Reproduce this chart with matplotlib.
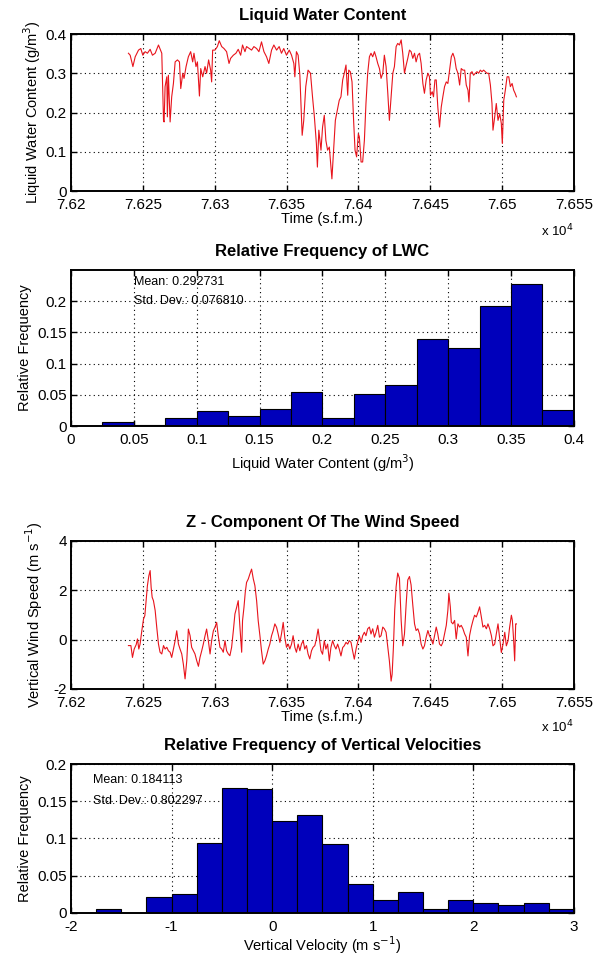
import numpy as np
import matplotlib
matplotlib.use('Agg')
import matplotlib.pyplot as plt

plt.rcParams['font.family'] = ['Liberation Sans', 'DejaVu Sans']

# liquid water content time series (s.f.m., g/m3)
lwc_time = [76240.0, 76241.2, 76243.1, 76244.7, 76247.0, 76248.6, 76250.0, 76251.6, 76253.2, 76255.1,
            76256.7, 76258.6, 76260.9, 76263.2, 76264.4, 76264.8, 76265.5, 76266.7, 76267.1, 76267.8,
            76269.0, 76270.1, 76271.3, 76272.5, 76274.1, 76275.5, 76276.4, 76277.8, 76278.7, 76280.1,
            76281.7, 76283.3, 76284.7, 76285.6, 76287.0, 76288.0, 76289.4, 76290.3, 76291.7, 76293.3,
            76294.4, 76295.8, 76297.2, 76297.9, 76298.6, 76300.2, 76301.9, 76303.2, 76304.9, 76306.5,
            76308.3, 76310.0, 76311.1, 76313.0, 76314.8, 76316.4, 76318.1, 76319.4, 76321.1, 76322.2,
            76324.1, 76325.7, 76327.3, 76329.2, 76330.8, 76332.6, 76334.3, 76336.1, 76337.7, 76339.6,
            76341.2, 76343.1, 76344.9, 76346.5, 76348.1, 76350.0, 76351.9, 76353.5, 76355.1, 76355.8,
            76356.9, 76358.1, 76359.3, 76360.9, 76362.0, 76363.4, 76365.0, 76366.7, 76368.1, 76369.4,
            76370.8, 76371.5, 76372.5, 76374.0, 76375.1, 76376.3, 76377.4, 76378.6, 76379.8, 76380.9,
            76381.6, 76382.6, 76384.0, 76384.9, 76385.8, 76386.7, 76387.9, 76389.1, 76390.2, 76391.4,
            76392.6, 76393.3, 76394.4, 76395.6, 76396.7, 76397.7, 76398.8, 76400.0, 76400.7, 76401.9,
            76403.0, 76404.2, 76405.3, 76406.5, 76407.7, 76408.8, 76410.0, 76411.2, 76412.3, 76413.5,
            76414.7, 76415.8, 76417.0, 76418.1, 76419.3, 76420.5, 76421.6, 76422.8, 76424.0, 76425.1,
            76426.3, 76427.4, 76428.6, 76429.8, 76430.9, 76432.1, 76433.3, 76434.4, 76435.6, 76436.7,
            76437.9, 76439.1, 76440.2, 76441.4, 76442.6, 76443.7, 76444.9, 76446.0, 76447.2, 76448.4,
            76449.5, 76450.2, 76451.4, 76452.3, 76453.3, 76454.2, 76455.3, 76456.5, 76457.7, 76458.8,
            76460.0, 76461.2, 76462.3, 76463.5, 76464.7, 76465.8, 76467.0, 76468.1, 76469.3, 76470.5,
            76471.6, 76472.8, 76474.0, 76475.1, 76476.3, 76477.0, 76477.9, 76479.1, 76480.2, 76481.4,
            76482.6, 76483.7, 76484.9, 76486.0, 76487.2, 76488.4, 76489.5, 76490.7, 76491.9, 76493.0,
            76493.7, 76494.9, 76496.0, 76497.2, 76498.4, 76499.5, 76500.2, 76501.2, 76502.3, 76503.5,
            76504.7, 76505.8, 76507.0, 76508.1, 76509.1, 76510.0]
lwc = [0.351, 0.346, 0.317, 0.342, 0.359, 0.363, 0.346, 0.355, 0.351, 0.361,
       0.346, 0.351, 0.372, 0.351, 0.180, 0.176, 0.266, 0.291, 0.189, 0.295,
       0.176, 0.240, 0.274, 0.329, 0.334, 0.329, 0.261, 0.300, 0.287, 0.317,
       0.342, 0.355, 0.329, 0.351, 0.317, 0.329, 0.242, 0.312, 0.291, 0.317,
       0.300, 0.334, 0.308, 0.278, 0.359, 0.359, 0.368, 0.383, 0.368, 0.363,
       0.355, 0.325, 0.338, 0.346, 0.351, 0.361, 0.346, 0.372, 0.355, 0.368,
       0.363, 0.359, 0.368, 0.363, 0.355, 0.380, 0.355, 0.342, 0.325, 0.359,
       0.372, 0.359, 0.368, 0.351, 0.363, 0.346, 0.359, 0.346, 0.325, 0.291,
       0.355, 0.346, 0.295, 0.142, 0.180, 0.266, 0.308, 0.300, 0.240, 0.189,
       0.121, 0.061, 0.155, 0.104, 0.163, 0.193, 0.129, 0.104, 0.112, 0.061,
       0.031, 0.095, 0.180, 0.197, 0.214, 0.231, 0.240, 0.283, 0.300, 0.321,
       0.244, 0.308, 0.304, 0.278, 0.180, 0.104, 0.087, 0.146, 0.138, 0.074,
       0.074, 0.129, 0.223, 0.300, 0.342, 0.351, 0.342, 0.355, 0.342, 0.325,
       0.312, 0.287, 0.300, 0.346, 0.317, 0.249, 0.180, 0.240, 0.300, 0.317,
       0.368, 0.376, 0.372, 0.385, 0.351, 0.300, 0.321, 0.338, 0.359, 0.355,
       0.338, 0.351, 0.329, 0.346, 0.351, 0.325, 0.274, 0.249, 0.283, 0.300,
       0.291, 0.244, 0.253, 0.240, 0.283, 0.283, 0.214, 0.163, 0.214, 0.240,
       0.266, 0.278, 0.274, 0.308, 0.342, 0.351, 0.338, 0.312, 0.300, 0.270,
       0.312, 0.308, 0.308, 0.270, 0.257, 0.227, 0.300, 0.304, 0.295, 0.300,
       0.304, 0.300, 0.308, 0.304, 0.308, 0.304, 0.300, 0.300, 0.270, 0.223,
       0.155, 0.189, 0.223, 0.180, 0.197, 0.172, 0.121, 0.231, 0.257, 0.291,
       0.291, 0.266, 0.274, 0.257, 0.249, 0.240]

# vertical wind speed time series (m/s)
w_time = [76240.0, 76241.7, 76242.8, 76244.0, 76245.4, 76246.3, 76247.2, 76248.1, 76249.3, 76250.5,
          76251.4, 76252.3, 76253.2, 76254.2, 76255.1, 76255.8, 76256.5, 76257.4, 76258.6, 76259.7,
          76260.9, 76262.0, 76263.2, 76264.4, 76265.5, 76266.7, 76267.8, 76269.0, 76270.1, 76271.3,
          76272.5, 76273.6, 76274.8, 76275.9, 76277.1, 76278.2, 76279.4, 76280.6, 76281.7, 76282.9,
          76284.0, 76285.2, 76286.3, 76287.5, 76288.7, 76289.8, 76291.0, 76292.1, 76293.3, 76294.4,
          76295.6, 76296.8, 76297.9, 76299.1, 76300.2, 76301.4, 76302.5, 76303.7, 76304.9, 76306.0,
          76307.2, 76308.3, 76309.5, 76310.6, 76311.8, 76313.0, 76314.1, 76315.3, 76316.4, 76317.6,
          76318.8, 76319.4, 76320.4, 76321.3, 76322.2, 76323.4, 76324.5, 76325.7, 76326.9, 76328.0,
          76329.2, 76330.3, 76331.5, 76332.6, 76333.8, 76335.0, 76336.1, 76337.3, 76338.4, 76339.6,
          76340.7, 76341.9, 76343.1, 76344.2, 76345.4, 76346.5, 76347.7, 76348.8, 76350.0, 76351.2,
          76352.3, 76353.5, 76354.6, 76355.8, 76356.9, 76358.1, 76359.3, 76360.4, 76361.6, 76362.7,
          76363.9, 76365.0, 76366.2, 76367.4, 76368.5, 76369.7, 76370.8, 76372.0, 76374.0, 76375.1,
          76376.3, 76377.4, 76378.6, 76379.8, 76380.9, 76382.1, 76383.3, 76384.4, 76385.6, 76386.7,
          76387.9, 76389.1, 76390.2, 76391.4, 76392.6, 76393.7, 76394.9, 76396.0, 76397.2, 76398.4,
          76399.5, 76400.7, 76401.9, 76403.0, 76404.2, 76405.3, 76406.5, 76407.7, 76408.8, 76410.0,
          76411.2, 76412.3, 76413.5, 76414.7, 76415.8, 76417.0, 76418.1, 76419.3, 76420.5, 76421.6,
          76422.8, 76423.5, 76424.4, 76425.3, 76426.3, 76427.4, 76428.6, 76429.8, 76430.9, 76432.1,
          76433.3, 76434.4, 76435.6, 76436.7, 76437.9, 76439.1, 76440.2, 76441.4, 76442.6, 76443.7,
          76444.9, 76446.0, 76447.2, 76448.4, 76449.5, 76450.7, 76451.9, 76453.0, 76454.2, 76455.3,
          76456.5, 76457.7, 76458.8, 76460.0, 76461.2, 76462.3, 76463.0, 76464.0, 76464.7, 76465.8,
          76467.0, 76468.1, 76469.3, 76470.5, 76471.6, 76472.8, 76474.0, 76475.1, 76476.3, 76477.4,
          76478.6, 76479.8, 76480.9, 76482.1, 76483.3, 76484.4, 76485.6, 76486.7, 76487.9, 76489.1,
          76490.2, 76491.4, 76492.6, 76493.7, 76494.9, 76496.0, 76497.2, 76498.4, 76499.5, 76500.7,
          76501.9, 76503.0, 76504.2, 76505.3, 76506.5, 76507.2, 76508.1, 76508.8, 76509.5, 76510.0]
w = [-0.24, -0.24, -0.72, -0.38, -0.20, 0.03, -0.38, -0.18, 0.36, 0.84,
     0.97, 1.58, 2.19, 2.59, 2.80, 2.12, 1.72, 1.58, 1.18, 0.50,
     -0.18, -0.51, -0.58, -0.24, -0.38, -0.31, -0.45, -0.51, -0.72, -0.38,
     -0.04, 0.36, -0.18, -0.38, -0.58, -0.99, -1.59, -0.85, 0.43, 0.16,
     -0.31, -0.45, -0.58, -0.85, -1.08, -0.72, -0.45, -0.18, 0.16, 0.43,
     -0.04, -0.58, -0.04, 0.36, 0.50, 0.70, 0.16, -0.31, -0.38, -0.51,
     -0.04, -0.45, -0.58, -0.65, -0.31, 0.36, 1.04, 1.31, 1.58, 0.50,
     -0.51, 0.77, 1.31, 1.92, 2.32, 2.46, 2.66, 2.86, 2.46, 2.19,
     1.58, 0.77, 0.16, -0.45, -0.99, -0.85, -0.65, -0.38, -0.18, 0.16,
     0.36, 0.64, 0.50, 0.23, -0.11, 0.23, 0.70, 0.09, -0.31, -0.18,
     -0.38, -0.18, 0.16, -0.31, -0.51, -0.18, -0.45, -0.18, -0.04, -0.38,
     -0.24, -0.58, -0.78, -0.45, -0.31, -0.24, 0.03, 0.43, -0.45, -0.59,
     -0.04, -0.38, -0.18, -0.86, -0.32, -0.04, -0.25, -0.38, -0.18, -0.38,
     -0.66, -0.32, -0.25, -0.11, -0.18, -0.04, -0.11, -0.45, -0.79, -0.38,
     -0.11, 0.16, -0.11, 0.16, 0.30, 0.16, 0.44, 0.51, 0.23, 0.44,
     0.10, 0.30, 0.58, 0.10, 0.16, 0.51, 0.44, 0.30, -0.32, -0.86,
     -1.68, -1.41, -0.32, 1.19, 2.15, 2.70, 2.49, 0.78, -0.25, 0.23,
     1.47, 2.42, 2.56, 2.22, 1.40, 0.64, 0.37, 0.44, 0.23, -0.18,
     -0.38, -0.25, 0.10, 0.37, 0.16, 0.03, -0.18, 0.16, 0.51, 0.23,
     -0.18, -0.25, -0.11, 0.23, 0.58, 1.19, 1.88, 1.33, 0.71, 0.64,
     0.78, 0.03, 0.64, 0.51, 0.58, 0.44, 0.23, 0.10, -0.66, 0.16,
     0.51, 0.78, 0.99, 0.92, 1.12, 1.33, 0.92, 0.51, 0.58, 0.44,
     0.64, 0.44, 0.16, -0.25, -0.18, 0.23, 0.64, 0.03, -0.52, -0.18,
     0.30, -0.25, -0.04, 0.51, 0.99, 0.78, -0.04, -0.86, 0.64, 0.64]

# histogram of LWC (bin edges and relative frequency)
lwc_edges = [0.0, 0.025, 0.05, 0.075, 0.1, 0.125, 0.15, 0.175, 0.2,
             0.225, 0.25, 0.275, 0.3, 0.325, 0.35, 0.375, 0.4]
lwc_freq = [0.0, 0.006, 0.002, 0.013, 0.0245, 0.0165, 0.028, 0.055,
            0.013, 0.051, 0.066, 0.139, 0.125, 0.192, 0.227, 0.025]
lwc_mean = 0.292731
lwc_std = 0.076810

# histogram of vertical velocity
w_edges = [-2.0, -1.75, -1.5, -1.25, -1.0, -0.75, -0.5, -0.25, 0.0, 0.25, 0.5,
           0.75, 1.0, 1.25, 1.5, 1.75, 2.0, 2.25, 2.5, 2.75, 3.0]
w_freq = [0.0, 0.0058, 0.0, 0.021, 0.0254, 0.0946, 0.168, 0.166, 0.124, 0.132,
          0.092, 0.039, 0.018, 0.0286, 0.0058, 0.018, 0.0134, 0.0103, 0.0134, 0.0058]
w_mean = 0.184113
w_std = 0.802297

time_ticks = [76200, 76250, 76300, 76350, 76400, 76450, 76500, 76550]
time_ticklabels = ['7.62', '7.625', '7.63', '7.635', '7.64', '7.645', '7.65', '7.655']

line_col = '#e8141c'
bar_col = '#0000bb'
tick_fs = 11
lab_fs = 10.5
title_fs = 12


def style_axes(ax):
    ax.tick_params(direction='in', top=True, right=True, labelsize=tick_fs, length=4,
                   width=1.0, colors='black')
    ax.tick_params(axis='x', pad=5)
    ax.tick_params(axis='y', pad=3)
    for sp in ax.spines.values():
        sp.set_linewidth(1.4)
    ax.grid(True, linestyle=(0, (1, 3)), color='black', linewidth=0.8)
    ax.set_axisbelow(True)


fig = plt.figure(figsize=(6.03, 9.58), dpi=100)
left, width = 0.1177, 0.834

# --- LWC time series
ax1 = fig.add_axes([left, 0.8006, width, 0.1639])
ax1.plot(lwc_time, lwc, color=line_col, linewidth=0.8)
ax1.set_xlim(76200, 76550)
ax1.set_ylim(0, 0.4)
ax1.set_xticks(time_ticks)
ax1.set_xticklabels(time_ticklabels)
ax1.set_yticks([0, 0.1, 0.2, 0.3, 0.4])
ax1.set_yticklabels(['0', '0.1', '0.2', '0.3', '0.4'])
style_axes(ax1)
ax1.set_title('Liquid Water Content', fontsize=title_fs, fontweight='bold', pad=10)
ax1.set_xlabel('Time (s.f.m.)', fontsize=lab_fs, labelpad=0)
ax1.set_ylabel('Liquid Water Content (g/m$^3$)', fontsize=lab_fs, labelpad=2)
ax1.text(1.0, -0.2, 'x 10$^4$', transform=ax1.transAxes, ha='right', va='top', fontsize=9.5)

# --- LWC histogram
ax2 = fig.add_axes([left, 0.5553, width, 0.1628])
ax2.bar(lwc_edges[:-1], lwc_freq, width=np.diff(lwc_edges), align='edge',
        color=bar_col, edgecolor='black', linewidth=0.8)
ax2.set_xlim(0, 0.4)
ax2.set_ylim(0, 0.2495)
ax2.set_xticks([0, 0.05, 0.1, 0.15, 0.2, 0.25, 0.3, 0.35, 0.4])
ax2.set_xticklabels(['0', '0.05', '0.1', '0.15', '0.2', '0.25', '0.3', '0.35', '0.4'])
ax2.set_yticks([0, 0.05, 0.1, 0.15, 0.2])
ax2.set_yticklabels(['0', '0.05', '0.1', '0.15', '0.2'])
style_axes(ax2)
ax2.set_title('Relative Frequency of LWC', fontsize=title_fs, fontweight='bold', pad=10)
ax2.set_xlabel('Liquid Water Content (g/m$^3$)', fontsize=lab_fs, labelpad=4)
ax2.set_ylabel('Relative Frequency', fontsize=lab_fs, labelpad=4)
ax2.text(0.05, 0.231, 'Mean: %f' % lwc_mean, fontsize=9, va='center', ha='left')
ax2.text(0.05, 0.2, 'Std. Dev.: %f' % lwc_std, fontsize=9, va='center', ha='left')

# --- vertical wind time series
ax3 = fig.add_axes([left, 0.2808, width, 0.1545])
ax3.plot(w_time, w, color=line_col, linewidth=0.8)
ax3.set_xlim(76200, 76550)
ax3.set_ylim(-2, 4)
ax3.set_xticks(time_ticks)
ax3.set_xticklabels(time_ticklabels)
ax3.set_yticks([-2, 0, 2, 4])
ax3.set_yticklabels(['-2', '0', '2', '4'])
style_axes(ax3)
ax3.set_title('Z - Component Of The Wind Speed', fontsize=title_fs, fontweight='bold', pad=10)
ax3.set_xlabel('Time (s.f.m.)', fontsize=lab_fs, labelpad=0)
ax3.set_ylabel('Vertical Wind Speed (m s$^{-1}$)', fontsize=lab_fs, labelpad=6)
ax3.text(1.0, -0.2, 'x 10$^4$', transform=ax3.transAxes, ha='right', va='top', fontsize=9.5)

# --- vertical velocity histogram
ax4 = fig.add_axes([left, 0.0470, width, 0.1555])
ax4.bar(w_edges[:-1], w_freq, width=np.diff(w_edges), align='edge',
        color=bar_col, edgecolor='black', linewidth=0.8)
ax4.set_xlim(-2, 3)
ax4.set_ylim(0, 0.2)
ax4.set_xticks([-2, -1, 0, 1, 2, 3])
ax4.set_xticklabels(['-2', '-1', '0', '1', '2', '3'])
ax4.set_yticks([0, 0.05, 0.1, 0.15, 0.2])
ax4.set_yticklabels(['0', '0.05', '0.1', '0.15', '0.2'])
style_axes(ax4)
ax4.set_title('Relative Frequency of Vertical Velocities', fontsize=title_fs, fontweight='bold', pad=10)
ax4.set_xlabel('Vertical Velocity (m s$^{-1}$)', fontsize=lab_fs, labelpad=0)
ax4.set_ylabel('Relative Frequency', fontsize=lab_fs, labelpad=4)
ax4.text(-1.78, 0.179, 'Mean: %f' % w_mean, fontsize=9, va='center', ha='left')
ax4.text(-1.78, 0.150, 'Std. Dev.: %f' % w_std, fontsize=9, va='center', ha='left')

fig.savefig('out.png', dpi=100)
